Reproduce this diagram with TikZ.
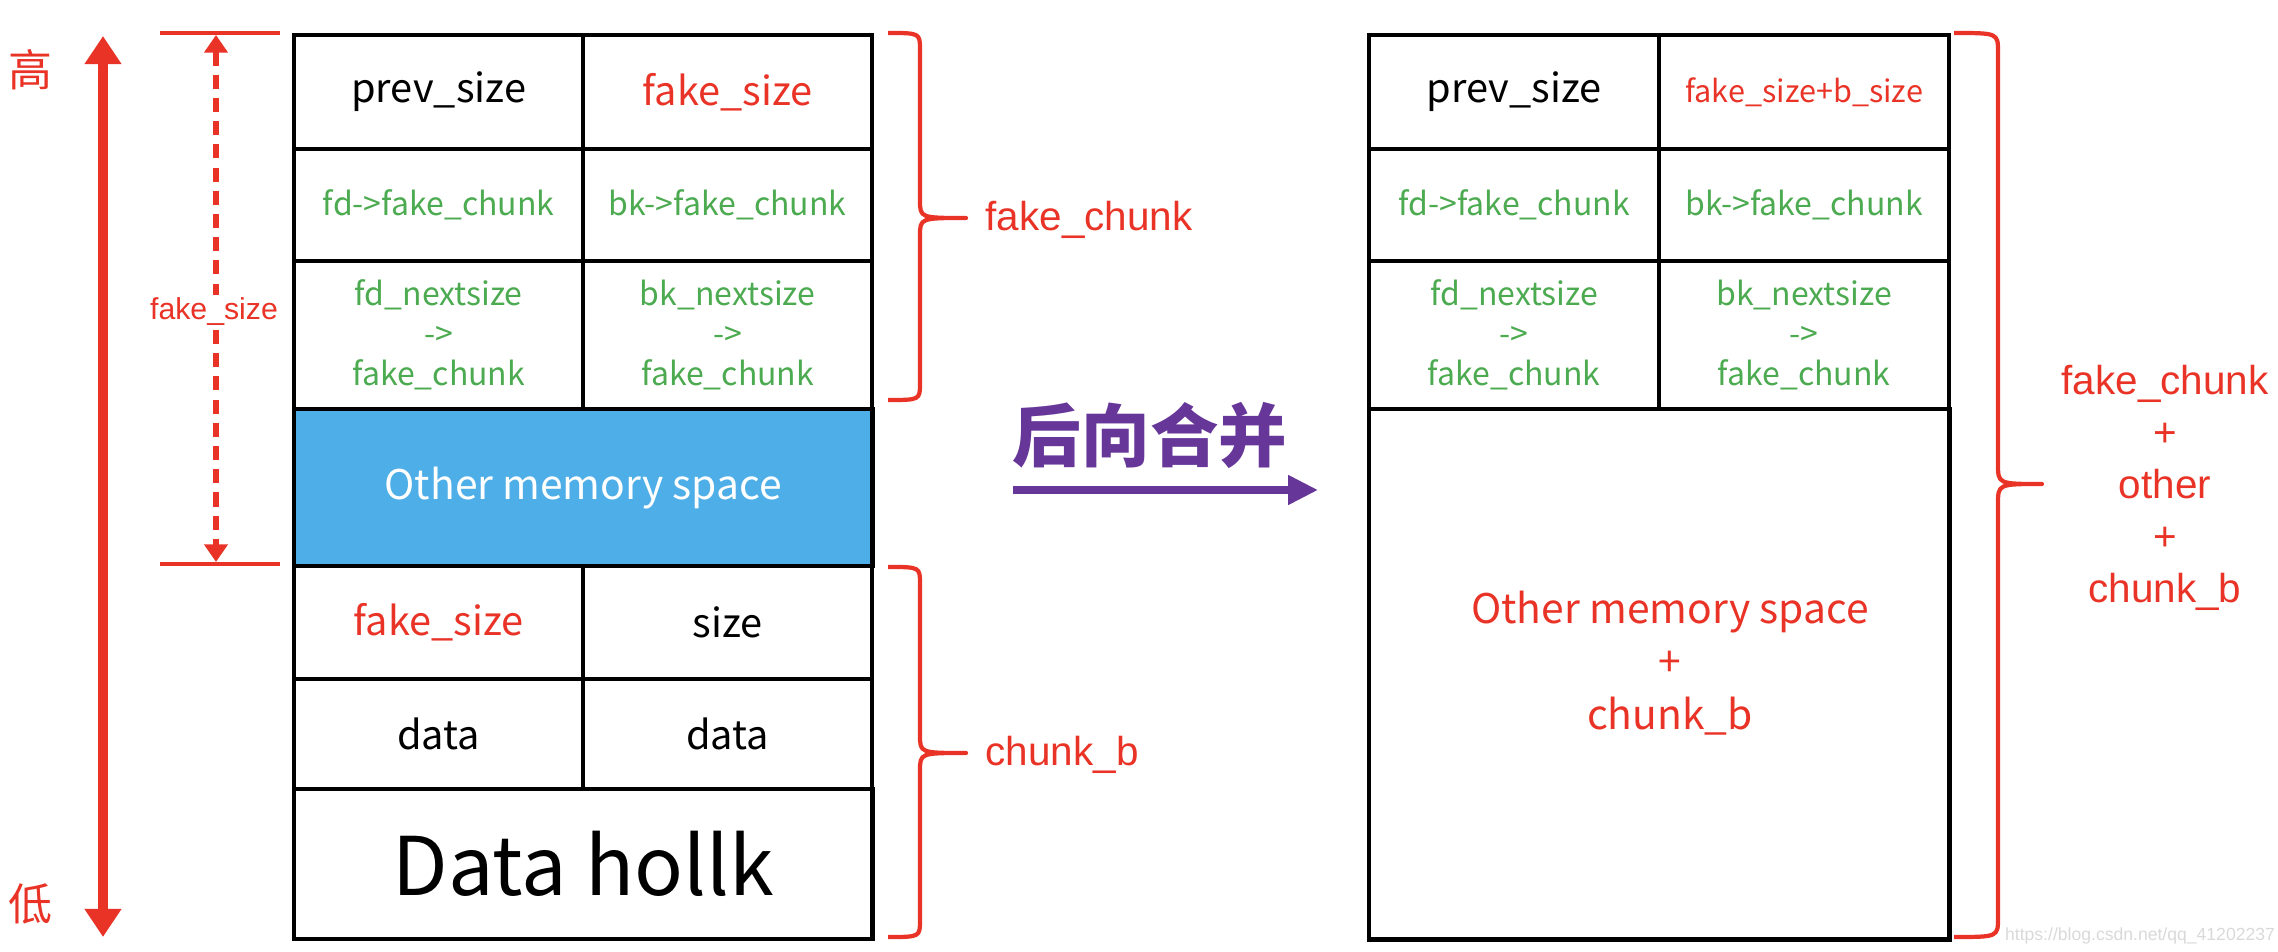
\documentclass[tikz,border=0pt]{standalone}
\usepackage{fontspec}
\setmainfont{Liberation Sans}
\newfontfamily\cjk{Noto Sans CJK SC}
\usetikzlibrary{arrows.meta}
\definecolor{myred}{RGB}{233,51,38}
\definecolor{mygreen}{RGB}{76,170,80}
\definecolor{myblue}{RGB}{77,174,232}
\definecolor{mypurple}{RGB}{102,55,153}
\tikzset{
  cell/.style={draw=black, line width=1.2pt, inner sep=0pt, anchor=north west, align=center,
    font=\cjk\fontsize{11.3}{14}\selectfont},
  greentxt/.style={text=mygreen, font=\cjk\fontsize{9.1}{11.4}\selectfont},
  brace/.style={draw=myred, line width=1.2pt, line join=round},
  lbl/.style={text=myred, font=\fontsize{11.5}{14.8}\selectfont, align=center, inner sep=0pt},
}
\begin{document}
\begin{tikzpicture}[x=0.01cm,y=-0.01cm]
\useasboundingbox (0,0) rectangle (2278,952);

% high / low
\node[text=myred, font=\cjk\fontsize{12.5}{14}\selectfont] (hi) at (30,70) {高};
\node[text=myred, font=\cjk\fontsize{12.5}{14}\selectfont] (lo) at (30,904) {低};
\coordinate (atop) at (103,36);
\coordinate (abot) at (103,937);
\draw[myred, line width=2.6pt, {Triangle[length=8pt,width=10pt]}-{Triangle[length=8pt,width=10pt]}] (atop) -- (abot);

% fake_size measure
\coordinate (m1a) at (160,33); \coordinate (m1b) at (280,33);
\coordinate (m2a) at (160,564); \coordinate (m2b) at (280,564);
\draw[myred, line width=0.9pt] (m1a) -- (m1b);
\draw[myred, line width=0.9pt] (m2a) -- (m2b);
\coordinate (dtop) at (216,35);
\coordinate (dbot) at (216,562);
\draw[myred, line width=1.7pt, dash pattern=on 4pt off 2.6pt, {Triangle[length=5pt,width=6.5pt]}-{Triangle[length=5pt,width=6.5pt]}] (dtop) -- (dbot);
\node[fill=white, text=myred, font=\fontsize{8.6}{10}\selectfont, inner sep=1pt] (fs) at (214,312) {fake\_size};

% left table
\node[cell, minimum width=2.89cm, minimum height=1.14cm] (L11) at (292,33) {prev\_size};
\node[cell, minimum width=2.89cm, minimum height=1.14cm, text=myred] (L12) at (581,33) {fake\_size};
\node[cell, greentxt, minimum width=2.89cm, minimum height=1.12cm] (L21) at (292,147) {fd->fake\_chunk};
\node[cell, greentxt, minimum width=2.89cm, minimum height=1.12cm] (L22) at (581,147) {bk->fake\_chunk};
\node[cell, greentxt, minimum width=2.89cm, minimum height=1.48cm] (L31) at (292,259) {fd\_nextsize\\->\\fake\_chunk};
\node[cell, greentxt, minimum width=2.89cm, minimum height=1.48cm] (L32) at (581,259) {bk\_nextsize\\->\\fake\_chunk};
\node[cell, fill=myblue, text=white, font=\cjk\fontsize{11.6}{15}\selectfont, minimum width=5.78cm, minimum height=1.57cm] (L4) at (292,407) {Other memory space};
\node[cell, minimum width=2.89cm, minimum height=1.13cm, text=myred] (L51) at (292,564) {fake\_size};
\node[cell, minimum width=2.89cm, minimum height=1.13cm] (L52) at (581,564) {size};
\node[cell, minimum width=2.89cm, minimum height=1.10cm] (L61) at (292,677) {data};
\node[cell, minimum width=2.89cm, minimum height=1.10cm] (L62) at (581,677) {data};
\node[cell, font=\cjk\fontsize{23}{26}\selectfont, minimum width=5.78cm, minimum height=1.50cm] (L7) at (292,787) {Data hollk};

% braces left
\draw[brace] (888,33) .. controls (920,33) .. (920,50) -- (920,200) .. controls (920,218) .. (966,218)
  .. controls (920,218) .. (920,236) -- (920,383) .. controls (920,400) .. (888,400);
\node[lbl, anchor=west] (fc) at (985,220) {fake\_chunk};
\draw[brace] (888,567) .. controls (920,567) .. (920,584) -- (920,735) .. controls (920,753) .. (966,753)
  .. controls (920,753) .. (920,771) -- (920,920) .. controls (920,937) .. (888,937);
\node[lbl, anchor=west] (cb) at (985,755) {chunk\_b};

% purple arrow
\node[text=mypurple, font=\cjk\bfseries\fontsize{19.5}{22}\selectfont] (merge) at (1150,436) {后向合并};
\coordinate (pa) at (1013,490);
\coordinate (pb) at (1318,490);
\draw[mypurple, line width=2pt, -{Triangle[length=8.5pt,width=8pt]}] (pa) -- (pb);

% right table
\node[cell, minimum width=2.90cm, minimum height=1.14cm] (R11) at (1367,33) {prev\_size};
\node[cell, minimum width=2.90cm, minimum height=1.14cm, text=myred, font=\cjk\fontsize{8.7}{11}\selectfont] (R12) at (1657,33) {fake\_size+b\_size};
\node[cell, greentxt, minimum width=2.90cm, minimum height=1.12cm] (R21) at (1367,147) {fd->fake\_chunk};
\node[cell, greentxt, minimum width=2.90cm, minimum height=1.12cm] (R22) at (1657,147) {bk->fake\_chunk};
\node[cell, greentxt, minimum width=2.90cm, minimum height=1.48cm] (R31) at (1367,259) {fd\_nextsize\\->\\fake\_chunk};
\node[cell, greentxt, minimum width=2.90cm, minimum height=1.48cm] (R32) at (1657,259) {bk\_nextsize\\->\\fake\_chunk};
\node[cell, minimum width=5.80cm, minimum height=5.30cm] (R4) at (1367,407) {};
\node[text=myred, font=\cjk\fontsize{11.6}{15}\selectfont, align=center] (R4t) at (1670,663) {Other memory space\\+\\chunk\_b};

% right brace
\draw[brace] (1954,33) .. controls (1998,33) .. (1998,52) -- (1998,464) .. controls (1998,484) .. (2042,484)
  .. controls (1998,484) .. (1998,504) -- (1998,918) .. controls (1998,937) .. (1954,937);
\node[lbl] (sum) at (2165,488) {fake\_chunk\\+\\other\\+\\chunk\_b};

% watermark
\node[text=black!15, font=\fontsize{5}{6}\selectfont, inner sep=0pt] (wm) at (2140,936) {https://blog.csdn.net/qq\_41202237};
\end{tikzpicture}
\end{document}
